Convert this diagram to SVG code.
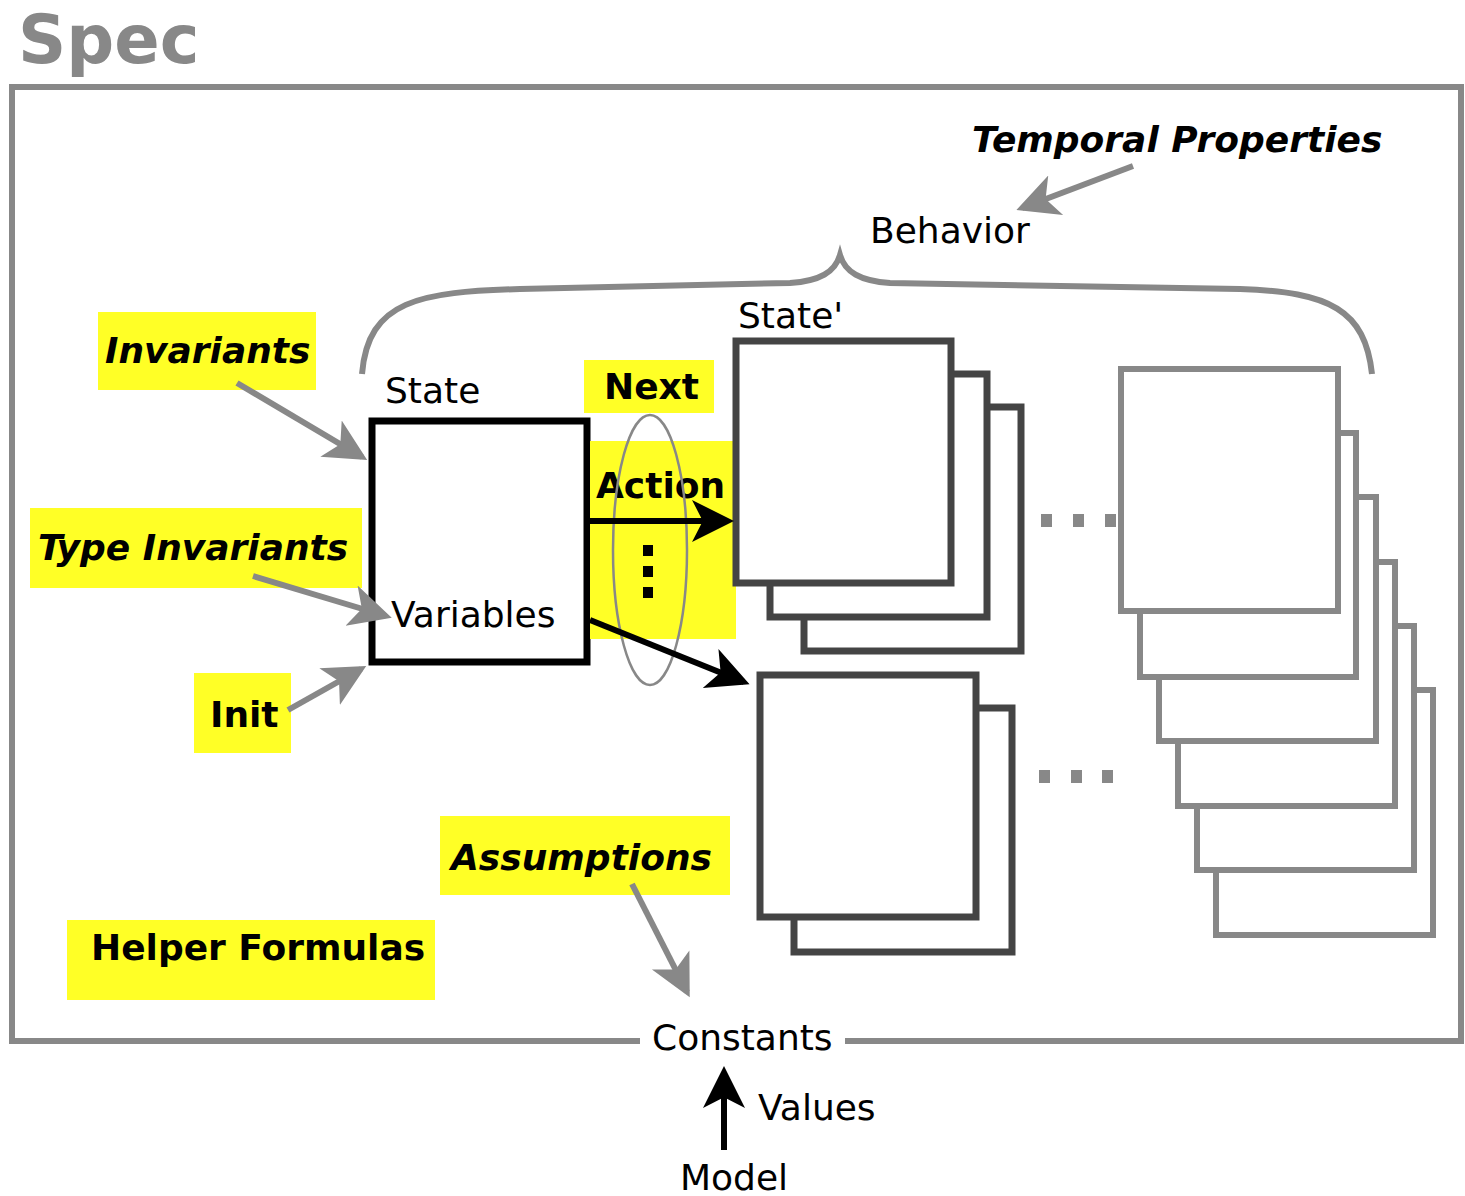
<svg xmlns="http://www.w3.org/2000/svg" width="1465" height="1196" viewBox="0 0 1465 1196">
<style>
text{font-family:"DejaVu Sans","Liberation Sans",sans-serif;font-size:36px;fill:#000}
.b{font-weight:bold}
.bi{font-weight:bold;font-style:italic}
.hl{fill:#ffff26;stroke:none}
.g{fill:none;stroke:#888;stroke-width:6}
.d{fill:#fff;stroke:#444;stroke-width:7}
.gl{fill:#fff;stroke:#888;stroke-width:6}
.ga{stroke:#888;stroke-width:6;fill:none}
.ka{stroke:#000;stroke-width:6;fill:none}
.dot{fill:#888}
</style>
<defs>
<marker id="mg" markerWidth="8" markerHeight="8" refX="6" refY="4" orient="auto" markerUnits="strokeWidth" viewBox="0 0 8 8"><path d="M0,0.5 L7,4 L0,7.5 L1.8,4 Z" fill="#888"/></marker>
<marker id="mk" markerWidth="8" markerHeight="8" refX="6" refY="4" orient="auto" markerUnits="strokeWidth" viewBox="0 0 8 8"><path d="M0,0.5 L7,4 L0,7.5 L1.8,4 Z" fill="#000"/></marker>
</defs>
<g id="spec">
<text x="18" y="63" style="font-size:67px;font-weight:bold;fill:#888">Spec</text>
<path class="g" d="M640,1041 H12 V87 H1461 V1041 H845"/>
</g>
<g id="behavior">
<text class="bi" x="972" y="152">Temporal Properties</text>
<text x="870" y="243">Behavior</text>
<path class="g" d="M362,374 C368,300 420,292 520,289 L790,283 C820,281 835,272 840,255 C845,272 860,281 890,283 L1240,289 C1330,292 1365,310 1372,374"/>
</g>
<g id="state">
<text x="385" y="403">State</text>
<rect x="372" y="421" width="215" height="241" fill="#fff" stroke="#000" stroke-width="7"/>
<text x="391" y="627">Variables</text>
</g>
<g id="invariants"><rect class="hl" x="98" y="312" width="218" height="78"/><text class="bi" x="105" y="363">Invariants</text></g>
<g id="typeinv"><rect class="hl" x="30" y="508" width="332" height="80"/><text class="bi" x="38" y="560">Type Invariants</text></g>
<g id="init"><rect class="hl" x="194" y="673" width="97" height="80"/><text class="b" x="210" y="727">Init</text></g>
<g id="next">
<rect class="hl" x="584" y="360" width="130" height="53"/>
<rect class="hl" x="590" y="441" width="146" height="198"/>
<text class="b" x="604" y="399">Next</text>
<text class="b" x="596" y="498">Action</text>
<rect x="643" y="545" width="10" height="11"/>
<rect x="643" y="566" width="10" height="11"/>
<rect x="643" y="587" width="10" height="11"/>
</g>
<g id="stateprime">
<text x="738" y="328">State'</text>
<rect class="d" x="804" y="407" width="217" height="244"/>
<rect class="d" x="770" y="374" width="217" height="243"/>
<rect class="d" x="736" y="341" width="215" height="242"/>
</g>
<g id="state2">
<rect class="d" x="794" y="708" width="218" height="244"/>
<rect class="d" x="760" y="675" width="216" height="242"/>
</g>
<g id="dots">
<rect class="dot" x="1041" y="514" width="11" height="13"/>
<rect class="dot" x="1073" y="514" width="11" height="13"/>
<rect class="dot" x="1105" y="514" width="11" height="13"/>
<rect class="dot" x="1039" y="770" width="11" height="13"/>
<rect class="dot" x="1071" y="770" width="11" height="13"/>
<rect class="dot" x="1102" y="770" width="11" height="13"/>
</g>
<g id="stackright">
<rect class="gl" x="1216" y="690" width="217" height="245"/>
<rect class="gl" x="1197" y="626" width="217" height="244"/>
<rect class="gl" x="1178" y="562" width="217" height="244"/>
<rect class="gl" x="1159" y="497" width="217" height="244"/>
<rect class="gl" x="1140" y="433" width="216" height="244"/>
<rect class="gl" x="1121" y="369" width="217" height="242"/>
</g>
<g id="assumptions"><rect class="hl" x="440" y="816" width="290" height="79"/><text class="bi" x="451" y="870">Assumptions</text></g>
<g id="helper"><rect class="hl" x="67" y="920" width="368" height="80"/><text class="b" x="91" y="960">Helper Formulas</text></g>
<g id="constants">
<text x="652" y="1050">Constants</text>
<text x="758" y="1120">Values</text>
<text x="680" y="1190">Model</text>
</g>
<g id="connectors">
<ellipse cx="650" cy="550" rx="37" ry="135" fill="none" stroke="#888" stroke-width="2.5"/>
<line class="ga" x1="1133" y1="166" x2="1022" y2="208" marker-end="url(#mg)"/>
<line class="ga" x1="237" y1="383" x2="362" y2="457" marker-end="url(#mg)"/>
<line class="ga" x1="253" y1="576" x2="386" y2="616" marker-end="url(#mg)"/>
<line class="ga" x1="288" y1="710" x2="361" y2="669" marker-end="url(#mg)"/>
<line class="ga" x1="632" y1="884" x2="687" y2="992" marker-end="url(#mg)"/>
<line class="ka" x1="590" y1="521" x2="728" y2="521" marker-end="url(#mk)"/>
<line class="ka" x1="590" y1="620" x2="744" y2="682" marker-end="url(#mk)"/>
<line class="ka" x1="724" y1="1150" x2="724" y2="1072" marker-end="url(#mk)"/>
</g>
</svg>
